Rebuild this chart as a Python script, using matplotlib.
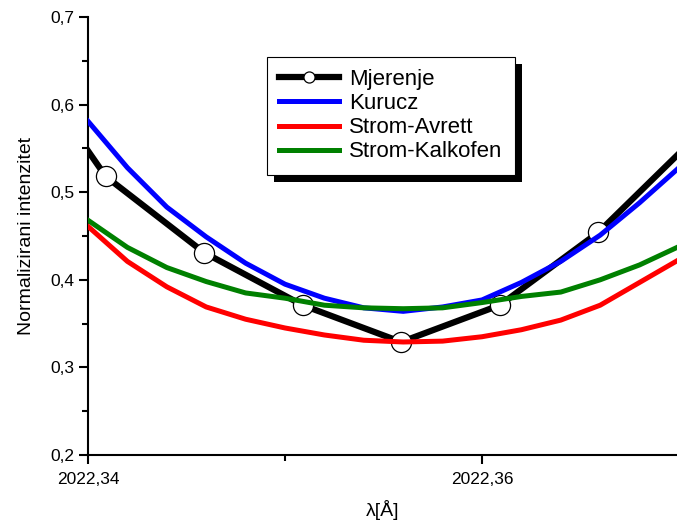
import numpy as np
import matplotlib
matplotlib.use('Agg')
import matplotlib.pyplot as plt
from matplotlib import font_manager
from matplotlib.ticker import MultipleLocator, FuncFormatter
from matplotlib.patches import Rectangle

# measured points (Mjerenje), first and last lie outside the visible range
x_mjer = [2022.3359, 2022.3409, 2022.3459, 2022.3509, 2022.3559, 2022.3609, 2022.3659, 2022.3709]
y_mjer = [0.680, 0.518, 0.431, 0.371, 0.329, 0.371, 0.454, 0.564]

# model profiles
x_model = [2022.340, 2022.342, 2022.344, 2022.346, 2022.348, 2022.350, 2022.352, 2022.354,
           2022.356, 2022.358, 2022.360, 2022.362, 2022.364, 2022.366, 2022.368, 2022.370]
y_kurucz = [0.581, 0.528, 0.483, 0.449, 0.419, 0.395, 0.379, 0.368,
            0.364, 0.369, 0.377, 0.397, 0.421, 0.451, 0.488, 0.528]
y_avrett = [0.461, 0.421, 0.392, 0.369, 0.355, 0.345, 0.337, 0.331,
            0.329, 0.330, 0.335, 0.343, 0.354, 0.371, 0.397, 0.423]
y_kalkofen = [0.468, 0.437, 0.414, 0.398, 0.385, 0.379, 0.371, 0.368,
              0.367, 0.368, 0.374, 0.381, 0.386, 0.400, 0.417, 0.438]

labels = ['Mjerenje', 'Kurucz', 'Strom-Avrett', 'Strom-Kalkofen']

plt.rcParams['font.family'] = ['Liberation Sans', 'DejaVu Sans']

# condensed font for the axis titles if it exists
try:
    font_manager.findfont('Liberation Sans Narrow', fallback_to_default=False)
    label_font = dict(family='Liberation Sans Narrow', fontsize=16.5)
except Exception:
    label_font = dict(family='Liberation Sans', fontsize=14)

fig = plt.figure(figsize=(6.77, 5.26), dpi=100)
ax = fig.add_axes([88 / 677, 71 / 526, 589 / 677, 438 / 526])

ax.plot(x_mjer, y_mjer, color='black', lw=4.5, marker='o', ms=14.5,
        mfc='white', mec='black', mew=0.9, label=labels[0], zorder=2)
ax.plot(x_model, y_kurucz, color='#0000ff', lw=3.6, label=labels[1], zorder=3)
ax.plot(x_model, y_avrett, color='#ff0000', lw=3.6, label=labels[2], zorder=3)
ax.plot(x_model, y_kalkofen, color='#008000', lw=3.6, label=labels[3], zorder=3)

ax.set_xlim(2022.34, 2022.34 + 0.02 * 589 / 394)
ax.set_ylim(0.2, 0.7)

ax.xaxis.set_major_locator(MultipleLocator(0.02))
ax.xaxis.set_minor_locator(MultipleLocator(0.01))
ax.yaxis.set_major_locator(MultipleLocator(0.1))
ax.yaxis.set_minor_locator(MultipleLocator(0.05))
ax.xaxis.set_major_formatter(FuncFormatter(lambda v, p: f'{v:.2f}'.replace('.', ',')))
ax.yaxis.set_major_formatter(FuncFormatter(lambda v, p: f'{v:.1f}'.replace('.', ',')))

ax.spines['top'].set_visible(False)
ax.spines['right'].set_visible(False)
for s in ['left', 'bottom']:
    ax.spines[s].set_linewidth(1.5)
ax.tick_params(which='major', direction='out', length=6.5, width=1.5, labelsize=12.5, pad=3.5)
ax.tick_params(axis='x', which='major', pad=6)
ax.tick_params(which='minor', direction='out', length=4, width=1.5)

ax.set_xlabel('λ[Å]', labelpad=9, **label_font)
ax.set_ylabel('Normalizirani intenzitet', labelpad=11, **label_font)

leg = ax.legend(loc='upper left', bbox_to_anchor=(0.304, 0.909), borderaxespad=0,
                fontsize=16, handlelength=2.7, handletextpad=0.45, labelspacing=0.14,
                borderpad=0.55, fancybox=False, framealpha=1, edgecolor='black',
                markerscale=0.55)
leg.get_frame().set_linewidth(0.8)

# black drop shadow under the legend box
fig.canvas.draw()
bb = leg.get_window_extent()
inv = ax.transAxes.inverted()
(x0, y0), (x1, y1) = inv.transform([[bb.x0 + 7, bb.y0 - 7], [bb.x1 + 7, bb.y1 - 7]])
ax.add_patch(Rectangle((x0, y0), x1 - x0, y1 - y0, transform=ax.transAxes,
                       facecolor='black', edgecolor='none', zorder=4.9, clip_on=False))

fig.savefig('out.png', dpi=100)
